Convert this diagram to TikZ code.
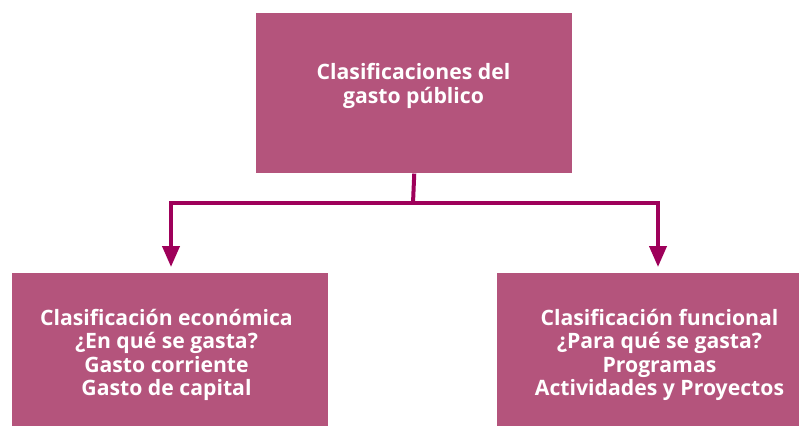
\documentclass[tikz,border=0pt]{standalone}
\usepackage{fontspec}
\setmainfont{Open Sans}
\usetikzlibrary{arrows.meta}
\definecolor{boxfill}{RGB}{180,84,124}
\definecolor{linecol}{RGB}{158,0,90}
\begin{document}
\begin{tikzpicture}[x=0.75pt,y=-0.75pt,
  box/.style={fill=boxfill,draw=none,inner sep=0pt,anchor=north west},
  lbl/.style={text=white,font=\fontsize{15.9pt}{17.6pt}\selectfont\bfseries,align=center,inner sep=0pt},
  conn/.style={draw=linecol,line width=3pt},
  arr/.style={conn,-{Triangle[width=12.75pt,length=15.75pt]},shorten >=4.5pt}]
\useasboundingbox (0,0) rectangle (799,426);
\node[box,minimum width=237pt,minimum height=120pt] (top) at (256,13) {};
\node[box,minimum width=237pt,minimum height=114.75pt] (left) at (12,273) {};
\node[box,minimum width=226.5pt,minimum height=114.75pt] (right) at (497,273) {};
\node[lbl] (ttop) at (413.5,86) {Clasificaciones del\\gasto público};
\node[lbl] (tleft) at (166.5,355) {Clasificación económica\\¿En qué se gasta?\\Gasto corriente\\Gasto de capital};
\node[lbl] (tright) at (659.5,355) {Clasificación funcional\\¿Para qué se gasta?\\Programas\\Actividades y Proyectos};
\coordinate (j) at (413,203);
\coordinate (lt) at (171,273);
\coordinate (rt) at (658,273);
\draw[conn] (top.south) -- (j);
\draw[arr] (j) -| (lt);
\draw[arr] (j) -| (rt);
\end{tikzpicture}
\end{document}
